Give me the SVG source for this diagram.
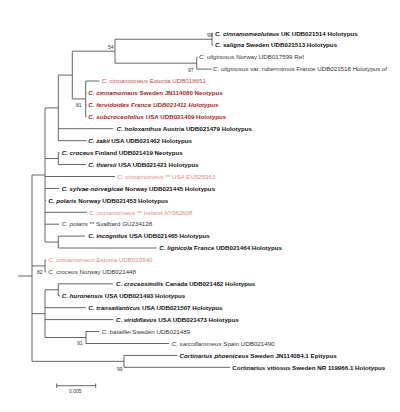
<svg xmlns="http://www.w3.org/2000/svg" width="400" height="412" viewBox="0 0 400 412">
<style>
.br{stroke:#555;stroke-width:0.9;fill:none}
text{font-family:"Liberation Sans",Arial,sans-serif;font-size:6.2px;fill:#111}
.b{font-weight:bold}
.n{fill:#333}
.r1{fill:#c0504d}
.r2{fill:#a8262a;font-weight:bold}
.pk{fill:#e08a8a}
.bs{font-size:5px;fill:#333}
</style>
<rect width="400" height="412" fill="#fff"/>
<g id="connectors" class="br">
<path d="M212,33.3V45.2M212,33.3H213M212,45.2H213"/>
<path d="M196.7,57.2V69.1M196.7,57.2H197.5M196.7,69.1H211.7"/>
<path d="M115,39.25V63.15M115,39.25H212M115,63.15H196.7"/>
<path d="M85.7,81V116.8M85.7,81H99.5M85.7,93H86.5M85.7,104.9H86.5M85.7,116.8H86.5"/>
<path d="M72.3,51.2V98.9M72.3,51.2H115M72.3,98.9H85.7"/>
<path d="M58.3,75.05V140.7M58.3,75.05H72.3M58.3,128.7H113.3M58.3,140.7H86.7"/>
<path d="M58.3,152.6V164.5M58.3,152.6H59.5M58.3,164.5H86"/>
<path d="M58.3,236.1V248M58.3,236.1H85M58.3,248H156.7"/>
<path d="M45,107.9V242.05M45,107.9H58.3M45,158.55H58.3M45,176.5H115M45,188.4H59.3M45,200.3H46M45,212.3H86.7M45,224.2H59.3M45,242.05H58.3"/>
<path d="M45,260V271.9M45,260H46M45,271.9H46"/>
<path d="M58.3,283.8V295.8M58.3,283.8H113.3M58.3,295.8H60"/>
<path d="M86,331.5V343.5M86,331.5H99.3M86,343.5H169"/>
<path d="M45,289.8V337.5M45,289.8H58.3M45,307.7H86M45,319.6H113.3M45,337.5H86"/>
<path d="M124,355.4V367.3M124,355.4H177M124,367.3H230"/>
<path d="M32,175V361.35M32,175H45M32,265.95H45M32,313.65H45M32,361.35H124M18,276H32"/>
<path d="M56.7,385.7H95.7M56.7,383.5V387.9M95.7,383.5V387.9"/>
</g>
<g id="bootstrap">
<text class="bs" x="207" y="37">99</text>
<text class="bs" x="108" y="49">54</text>
<text class="bs" x="188" y="72">97</text>
<text class="bs" x="76" y="107">81</text>
<text class="bs" x="37" y="274">82</text>
<text class="bs" x="77" y="345">91</text>
<text class="bs" x="117" y="371">99</text>
<text class="bs" x="69" y="393">0.005</text>
</g>
<g id="leaves">
<text id="t1" class="b" x="215" y="35.5"><tspan font-style="italic">C. cinnamomeoluteus</tspan> UK UDB021514 Holotypus</text>
<text id="t2" class="b" x="215" y="47.4"><tspan font-style="italic">C. saligna</tspan> Sweden UDB021513 Holotypus</text>
<text id="t3" class="n" x="199" y="59.4"><tspan font-style="italic">C. uliginosus</tspan> Norway UDB017599 Ref</text>
<text id="t4" class="n" x="213" y="71.3"><tspan font-style="italic">C. uliginosus</tspan> var. rubermimus France UDB021518 Holotypus of</text>
<text id="t5" class="r1" x="101.7" y="83.2"><tspan font-style="italic">C. cinnamomeus</tspan> Estonia UDB018651</text>
<text id="t6" class="r2" x="88.3" y="95.2"><tspan font-style="italic">C. cinnamomeus</tspan> Sweden JN114080 Neotypus</text>
<text id="t7" class="r2" x="88.3" y="107.1" font-style="italic">C. fervidoides France UDB021411 Holotypus</text>
<text id="t8" class="r2" x="88.3" y="119"><tspan font-style="italic">C. subcroceofolius</tspan> USA UDB021409 Holotypus</text>
<text id="t9" class="b" x="116.7" y="130.9"><tspan font-style="italic">C. holoxanthus</tspan> Austria UDB021479 Holotypus</text>
<text id="t10" class="b" x="88.3" y="142.9"><tspan font-style="italic">C. zakii</tspan> USA UDB021462 Holotypus</text>
<text id="t11" class="b" x="61.7" y="154.8"><tspan font-style="italic">C. croceus</tspan> Finland UDB021419 Neotypus</text>
<text id="t12" class="b" x="88.3" y="166.7"><tspan font-style="italic">C. thiersii</tspan> USA UDB021421 Holotypus</text>
<text id="t13" class="pk" x="117.3" y="178.7"><tspan font-style="italic">C. cinnamomeus</tspan> ** USA EU525963</text>
<text id="t14" class="b" x="61.7" y="190.6"><tspan font-style="italic">C. sylvae-norvegicae</tspan> Norway UDB021445 Holotypus</text>
<text id="t15" class="b" x="48.3" y="202.5"><tspan font-style="italic">C. polaris</tspan> Norway UDB021453 Holotypus</text>
<text id="t16" class="pk" x="89" y="214.5"><tspan font-style="italic">C. cinnamomeus</tspan> ** Ireland AY082608</text>
<text id="t17" class="n" x="61.7" y="226.4"><tspan font-style="italic">C. polaris</tspan> ** Svalbard GU234128</text>
<text id="t18" class="b" x="88.3" y="238.3"><tspan font-style="italic">C. incognitus</tspan> USA UDB021465 Holotypus</text>
<text id="t19" class="b" x="159.3" y="250.2"><tspan font-style="italic">C. lignicola</tspan> France UDB021464 Holotypus</text>
<text id="t20" class="pk" x="48.3" y="262.2"><tspan font-style="italic">C. cinnamomeus</tspan> Estonia UDB019540</text>
<text id="t21" class="n" x="48.3" y="274.1"><tspan font-style="italic">C. croceus</tspan> Norway UDB021448</text>
<text id="t22" class="b" x="116" y="286"><tspan font-style="italic">C. croceosimilis</tspan> Canada UDB021482 Holotypus</text>
<text id="t23" class="b" x="61.7" y="298"><tspan font-style="italic">C. huronensis</tspan> USA UDB021493 Holotypus</text>
<text id="t24" class="b" x="88.3" y="309.9"><tspan font-style="italic">C. transatlanticus</tspan> USA UDB021507 Holotypus</text>
<text id="t25" class="b" x="116" y="321.8"><tspan font-style="italic">C. viridiflavus</tspan> USA UDB021473 Holotypus</text>
<text id="t26" class="n" x="101.7" y="333.7"><tspan font-style="italic">C. bataillei</tspan> Sweden UDB021489</text>
<text id="t27" class="n" x="171.7" y="345.7"><tspan font-style="italic">C. sarcoflammeus</tspan> Spain UDB021490</text>
<text id="t28" class="b" x="179.5" y="357.6"><tspan font-style="italic">Cortinarius phoeniceus</tspan> Sweden JN114084.1 Epitypus</text>
<text id="t29" class="b" x="232.3" y="369.5">Cortinarius vitiosus Sweden NR 119966.1 Holotypus</text>
</g>
</svg>
